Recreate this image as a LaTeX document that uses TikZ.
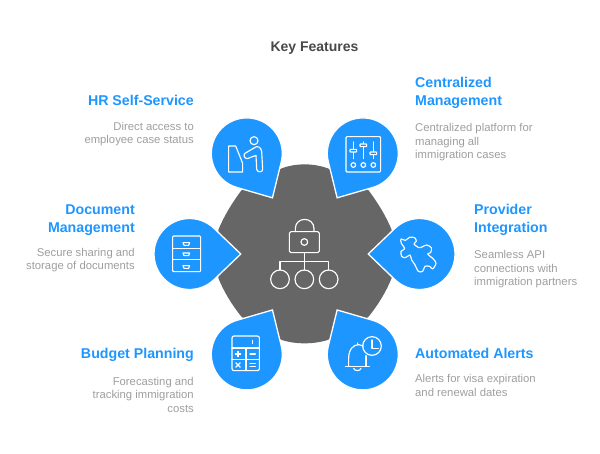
\documentclass[tikz,border=0pt]{standalone}
\usepackage{fontspec}
\setmainfont{Liberation Sans}
\definecolor{dropblue}{HTML}{1E96FF}
\definecolor{hubgrey}{HTML}{666666}
\definecolor{bodygrey}{HTML}{9E9E9E}
\definecolor{titlegrey}{HTML}{484848}
\tikzset{
 dropshape/.style={fill=dropblue,draw=white,line width=1.3pt,line join=miter},
 headtext/.style={inner sep=0pt,text=dropblue,font=\fontsize{14.2}{18}\selectfont\bfseries},
 desctext/.style={inner sep=0pt,text=bodygrey,font=\fontsize{11.3}{13.6}\selectfont},
 iconline/.style={draw=white,line width=1.15pt,line join=round,line cap=round},
 zoomed/.style={x=0.33333pt,y=-0.33333pt,shift={(150pt,-110pt)}}
}
\newcommand{\teardrop}[3]{\draw[dropshape,shift={(#1,#2)},rotate=#3] (51.3,0) -- (46:35.5) arc[start angle=46,end angle=314,radius=35.5] -- cycle;}
\begin{document}
\begin{tikzpicture}[x=1pt,y=-1pt]
\useasboundingbox (0,0) rectangle (600,454);
\node[inner sep=0pt,anchor=base,text=titlegrey,font=\fontsize{14}{18}\selectfont\bfseries] (title) at (314.5,52) {Key Features};
% hub
\fill[hubgrey] (281.7,168.3) .. controls (296,163) and (313,163) .. (327.7,168.3)
 -- (368.3,190) .. controls (378,203) and (386,216) .. (391.7,230)
 -- (391.7,278) .. controls (386,292) and (378,305) .. (368.3,317)
 -- (327.7,340) .. controls (313,344.5) and (296,344.5) .. (281.7,340)
 -- (241.7,317) .. controls (232,305) and (224,292) .. (218.3,278)
 -- (218.3,230) .. controls (224,216) and (232,203) .. (241.7,190) -- cycle;
% drops
\teardrop{189.5}{254}{0}
\teardrop{419.5}{254}{180}
\teardrop{246.8}{153.4}{-60}
\teardrop{362.8}{153.4}{-120}
\teardrop{246.8}{354.4}{60}
\teardrop{362.8}{354.4}{120}
% icons, in a 3x coordinate frame
\begin{scope}[zoomed,iconline]
 % centre: lock and tree
 \draw[rounded corners=1.6pt] (418,365) rectangle (508,428);
 \draw (436,365) -- (436,356) .. controls (436,319) and (492,319) .. (492,356) -- (492,365);
 \draw (463,396) circle[radius=10];
 \draw (463,428) -- (463,480);
 \draw (390,480) -- (390,455) -- (536,455) -- (536,480);
 \foreach \cx in {390,463,536} \draw (\cx,508) circle[radius=28];
 % sliders
 \draw[rounded corners=1pt] (588,80) rectangle (692,186);
 \foreach \cx/\ky in {610/122,640/106,670/130}{
   \draw (\cx,96) -- (\cx,146);
   \draw[fill=dropblue,rounded corners=0.6pt] (\cx-10,\ky-4) rectangle (\cx+10,\ky+4);
   \draw (\cx,165) circle[radius=7];
 }
 % person at kiosk
 \draw (312,92) circle[radius=12];
 \draw (236,108) -- (257,108) -- (278,160) -- (278,186) -- (236,186) -- cycle;
 \draw (285,130) -- (312,114) .. controls (322,106) and (332,110) .. (335,124) -- (338,178) .. controls (338,188) and (322,188) .. (320,178) -- (318,136) -- (292,146) .. controls (282,146) and (280,134) .. (285,130) -- cycle;
 % cabinet
 \draw[rounded corners=1pt] (68,378) rectangle (152,485);
 \draw (68,415) -- (152,415);
 \draw (68,448) -- (152,448);
 \foreach \ky in {398,429,467} \draw (99,\ky) -- (119,\ky) -- (116,\ky+8) -- (102,\ky+8) -- cycle;
 % puzzle
 \draw plot[smooth cycle,tension=0.5] coordinates {(753,387) (766,391) (779,382) (794,383) (799,394) (792,402) (807,413) (818,410) (830,405) (844,413) (842,428) (833,432) (850,447) (858,460) (848,477) (839,469) (825,469) (818,484) (805,484) (794,463) (785,450) (780,435) (766,443) (755,439) (753,424) (764,416) (754,400)};
 % calculator
 \draw[rounded corners=2pt] (246,678) rectangle (328,782);
 \draw (246,714) -- (328,714);
 \draw (246,748) -- (328,748);
 \draw (288,714) -- (288,782);
 \draw (308,691) -- (308,701);
 \draw (256,732) -- (272,732) (264,724) -- (264,740);
 \draw (300,732) -- (316,732);
 \draw (257,758) -- (271,772) (271,758) -- (257,772);
 \draw (300,761) -- (316,761) (300,769) -- (316,769);
 % bell and clock
 \draw (666,708) circle[radius=28];
 \draw (666,690) -- (666,716) -- (685,716);
 \draw (586,769) -- (658,769);
 \draw (596,769) -- (596,745) .. controls (596,718) and (610,704) .. (626,704) .. controls (632,704) and (636,706) .. (640,708);
 \draw (648,769) -- (648,737);
 \draw (622,704) -- (622,699);
 \draw (611,775) .. controls (613,784) and (631,784) .. (633,775);
\end{scope}
% labels (a multi-line node's base is its last line)
\node[headtext,anchor=base east,align=right] (hr) at (194,106) {HR Self-Service};
\node[desctext,anchor=base east,align=right] (hrd) at (194,144) {Direct access to\\employee case status};
\node[headtext,anchor=base west,align=left] (cm) at (415,106) {Centralized\\Management};
\node[desctext,anchor=base west,align=left] (cmd) at (415,159) {Centralized platform for\\managing all\\immigration cases};
\node[headtext,anchor=base east,align=right] (dm) at (135,233) {Document\\Management};
\node[desctext,anchor=base east,align=right] (dmd) at (135,270) {Secure sharing and\\storage of documents};
\node[headtext,anchor=base west,align=left] (pi) at (474,233) {Provider\\Integration};
\node[desctext,anchor=base west,align=left] (pid) at (474,286) {Seamless API\\connections with\\immigration partners};
\node[headtext,anchor=base east,align=right] (bp) at (194,359) {Budget Planning};
\node[desctext,anchor=base east,align=right] (bpd) at (194,412.5) {Forecasting and\\tracking immigration\\costs};
\node[headtext,anchor=base west,align=left] (aa) at (415,359) {Automated Alerts};
\node[desctext,anchor=base west,align=left] (aad) at (415,396.5) {Alerts for visa expiration\\and renewal dates};
\end{tikzpicture}
\end{document}
